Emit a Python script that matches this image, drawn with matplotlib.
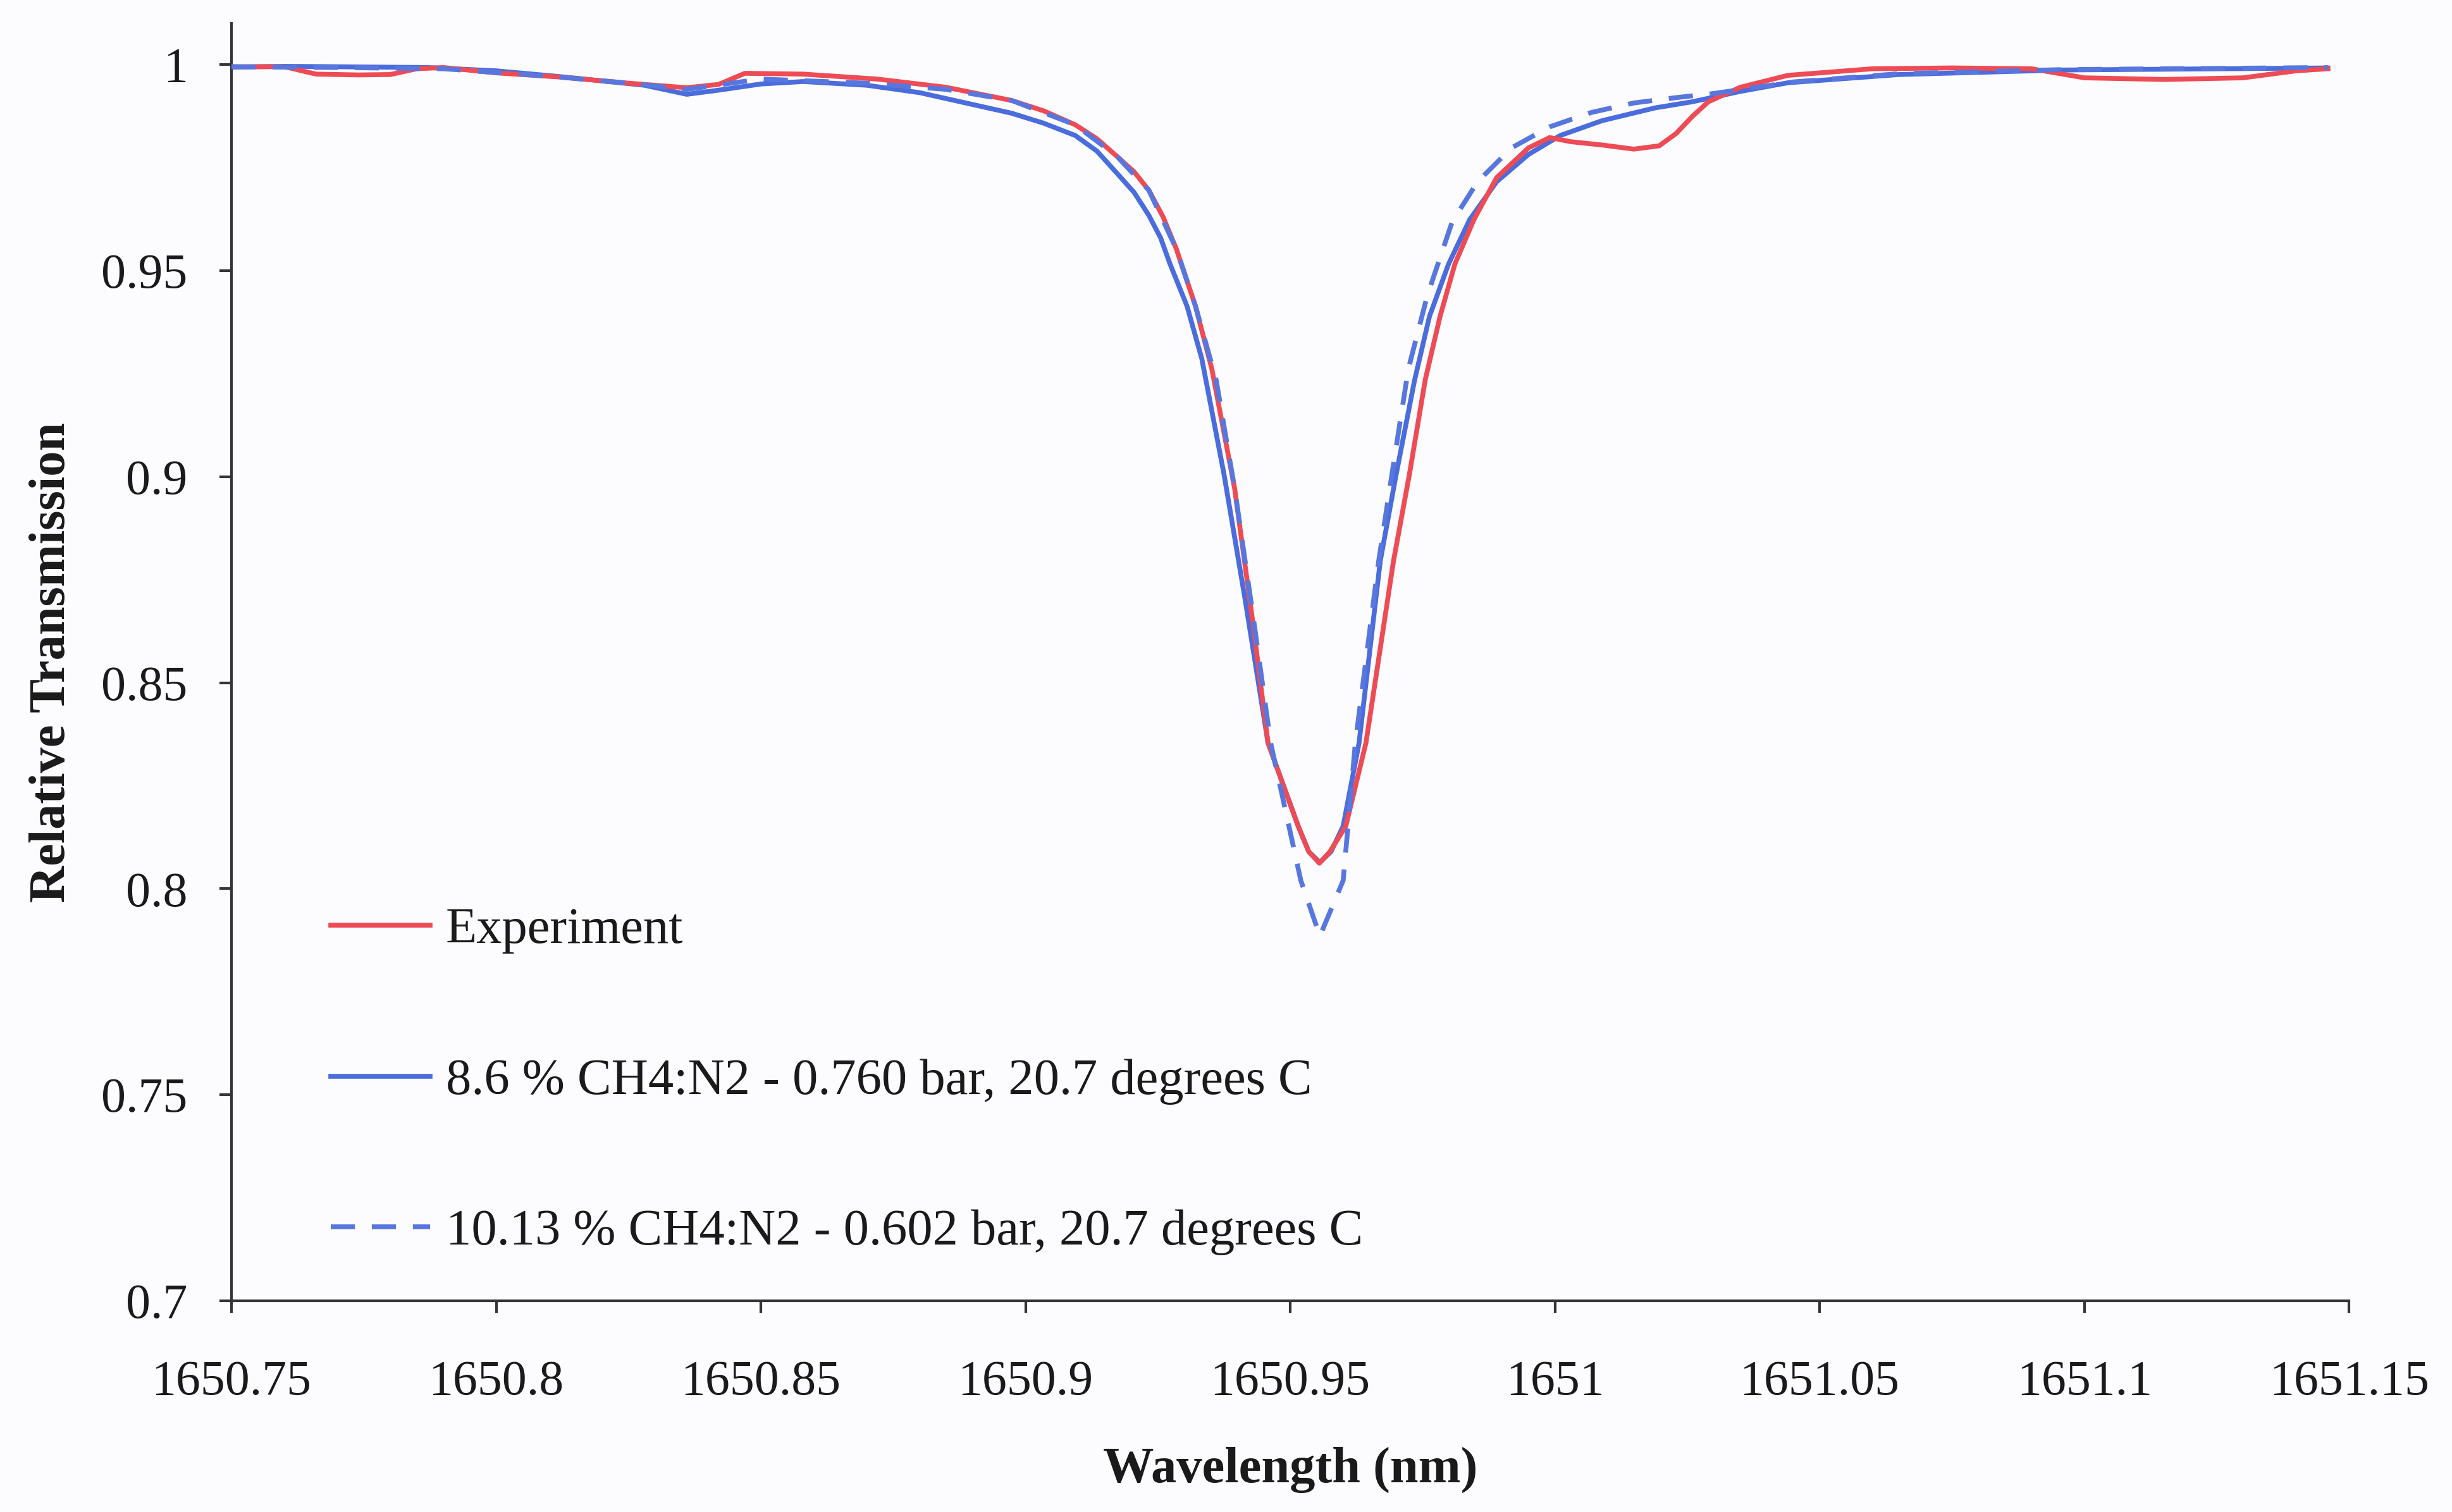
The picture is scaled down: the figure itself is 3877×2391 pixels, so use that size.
import matplotlib
matplotlib.use("Agg")
import matplotlib.pyplot as plt
from matplotlib.ticker import FuncFormatter

# Measured transmission spectrum (wavelength in nm, relative transmission)
exp_wl = [1650.750, 1650.760, 1650.766, 1650.774, 1650.780, 1650.785, 1650.790,
          1650.800, 1650.812, 1650.825, 1650.836, 1650.842, 1650.847, 1650.858,
          1650.872, 1650.885, 1650.8974, 1650.9034, 1650.9094, 1650.9135,
          1650.9173, 1650.9205, 1650.9233, 1650.9260, 1650.9285, 1650.9321,
          1650.9352, 1650.9395, 1650.9430, 1650.9458, 1650.9490, 1650.9515,
          1650.9535, 1650.9555, 1650.9575, 1650.9605, 1650.9643, 1650.9695,
          1650.9725, 1650.9755, 1650.9783, 1650.9811, 1650.9847, 1650.9890,
          1650.9950, 1650.9990, 1651.0030, 1651.0089, 1651.0149, 1651.0197,
          1651.0229, 1651.0260, 1651.0290, 1651.0350, 1651.0440, 1651.0600,
          1651.0750, 1651.0900, 1651.1000, 1651.1150, 1651.1300, 1651.1400,
          1651.1460]
exp_tr = [0.9995, 0.9995, 0.9977, 0.9975, 0.9976, 0.9990, 0.9993,
          0.9980, 0.9970, 0.9955, 0.9944, 0.9952, 0.9979, 0.9977,
          0.9965, 0.9945, 0.9913, 0.9888, 0.9854, 0.9820,
          0.9777, 0.9740, 0.9695, 0.9630, 0.9552, 0.9414,
          0.9261, 0.8971, 0.8640, 0.8354, 0.8240, 0.8152,
          0.8090, 0.8062, 0.8090, 0.8152, 0.8354, 0.8795,
          0.9005, 0.9235, 0.9389, 0.9516, 0.9624, 0.9726,
          0.9798, 0.9823, 0.9813, 0.9805, 0.9795, 0.9803,
          0.9833, 0.9875, 0.9910, 0.9945, 0.9974, 0.9990,
          0.9992, 0.9990, 0.9968, 0.9964, 0.9968, 0.9985,
          0.9990]

# Model: 8.6 % CH4:N2 at 0.760 bar
m1_wl = [1650.750, 1650.760, 1650.787, 1650.800, 1650.812, 1650.828, 1650.836,
         1650.842, 1650.850, 1650.858, 1650.870, 1650.880, 1650.8974, 1650.9034,
         1650.9094, 1650.9135, 1650.9173, 1650.9205, 1650.9233, 1650.9255,
         1650.9273, 1650.9305, 1650.9333, 1650.9375, 1650.9415, 1650.9458,
         1650.9515, 1650.9535, 1650.9556, 1650.9577, 1650.9600, 1650.9630,
         1650.9670, 1650.9700, 1650.9735, 1650.9763, 1650.9799, 1650.9839,
         1650.9890, 1650.9950, 1651.0010, 1651.0089, 1651.0189, 1651.0260,
         1651.0350, 1651.0440, 1651.0650, 1651.0960, 1651.1460]
m1_tr = [0.9994, 0.9996, 0.9993, 0.9985, 0.9971, 0.9950, 0.9928,
         0.9938, 0.9953, 0.9959, 0.9950, 0.9932, 0.9882, 0.9858,
         0.9828, 0.9790, 0.9736, 0.9690, 0.9634, 0.9580,
         0.9516, 0.9414, 0.9286, 0.9005, 0.8700, 0.8354,
         0.8152, 0.8090, 0.8064, 0.8090, 0.8152, 0.8354,
         0.8795, 0.9005, 0.9235, 0.9389, 0.9516, 0.9624,
         0.9716, 0.9782, 0.9828, 0.9864, 0.9895, 0.9910,
         0.9935, 0.9956, 0.9976, 0.9987, 0.9992]

# Model: 10.13 % CH4:N2 at 0.602 bar
m2_wl = [1650.750, 1650.770, 1650.790, 1650.810, 1650.825, 1650.836, 1650.850,
         1650.870, 1650.885, 1650.8974, 1650.9094, 1650.9173, 1650.9233,
         1650.9285, 1650.9321, 1650.9360, 1650.9395, 1650.9430, 1650.9463,
         1650.9520, 1650.9556, 1650.9600, 1650.9623, 1650.9667, 1650.9695,
         1650.9723, 1650.9759, 1650.9806, 1650.9854, 1650.9918, 1650.9990,
         1651.0069, 1651.0149, 1651.0229, 1651.0300, 1651.0450, 1651.0650,
         1651.0960, 1651.1460]
m2_tr = [0.9995, 0.9993, 0.9990, 0.9972, 0.9955, 0.9940, 0.9965,
         0.9955, 0.9940, 0.9913, 0.9854, 0.9777, 0.9695,
         0.9552, 0.9414, 0.9235, 0.8971, 0.8660, 0.8354,
         0.8020, 0.7885, 0.8020, 0.8354, 0.8795, 0.9030,
         0.9261, 0.9440, 0.9619, 0.9716, 0.9798, 0.9849,
         0.9884, 0.9907, 0.9920, 0.9930, 0.9958, 0.9978,
         0.9988, 0.9993]

labels = ["Experiment",
          "8.6 % CH4:N2 - 0.760 bar, 20.7 degrees C",
          "10.13 % CH4:N2 - 0.602 bar, 20.7 degrees C"]

x_ticks = [1650.75, 1650.8, 1650.85, 1650.9, 1650.95, 1651.0, 1651.05, 1651.1, 1651.15]
y_ticks = [0.7, 0.75, 0.8, 0.85, 0.9, 0.95, 1.0]

plt.rcParams['font.family'] = ['Liberation Serif', 'DejaVu Serif']

fig = plt.figure(figsize=(38.77, 23.91), dpi=100, facecolor='#fcfcfe')
ax = fig.add_axes([0.0944, 0.1397, 0.8636, 0.8448])
ax.set_facecolor('#fcfcfe')

red = '#ee4b55'
blue = '#4a6cdc'
ax.plot(exp_wl, exp_tr, color=red, lw=5.5, label=labels[0], zorder=3,
        solid_joinstyle='round')
ax.plot(m1_wl, m1_tr, color=blue, lw=5.5, label=labels[1], zorder=2,
        solid_joinstyle='round')
ax.plot(m2_wl, m2_tr, color='#5877de', lw=5.5, ls=(0, (5, 3.5)), label=labels[2],
        zorder=4)

ax.set_xlim(1650.75, 1651.15)
ax.set_ylim(0.7, 1.0100)
ax.set_xticks(x_ticks)
ax.set_yticks(y_ticks)
fmt = FuncFormatter(lambda v, p: ('%.2f' % v).rstrip('0').rstrip('.'))
ax.xaxis.set_major_formatter(fmt)
ax.yaxis.set_major_formatter(fmt)

for s in ['top', 'right']:
    ax.spines[s].set_visible(False)
for s in ['left', 'bottom']:
    ax.spines[s].set_linewidth(3.0)
    ax.spines[s].set_color('#333338')

ax.tick_params(axis='both', direction='out', length=14, width=3.0, color='#333338',
               labelsize=56, labelcolor='#1a1a1a')
ax.tick_params(axis='x', pad=53)
ax.tick_params(axis='y', pad=36)

ax.set_xlabel('Wavelength (nm)', fontsize=58, fontweight='bold', labelpad=48, color='#1a1a1a')
ax.set_ylabel('Relative Transmission', fontsize=58, fontweight='bold', labelpad=30, color='#1a1a1a')

leg = ax.legend(loc='upper left', bbox_to_anchor=(0.047, 0.308), frameon=False,
                fontsize=58, handlelength=1.94, handletextpad=0.31, labelspacing=2.05,
                borderpad=0, borderaxespad=0)
for t in leg.get_texts():
    t.set_color('#1a1a1a')

fig.savefig('out.png', dpi=100, facecolor=fig.get_facecolor())
